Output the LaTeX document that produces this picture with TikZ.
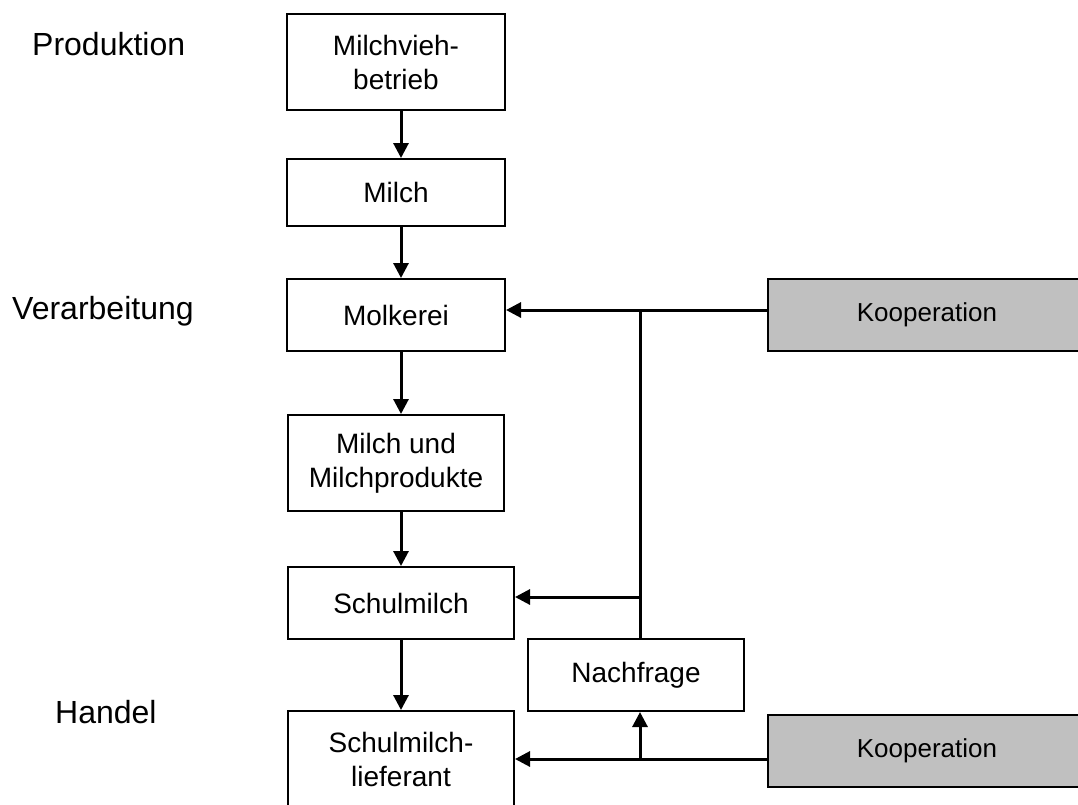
\documentclass[tikz,border=0pt]{standalone}
\usepackage{fontspec}
\setmainfont{Liberation Sans}
\usetikzlibrary{arrows.meta}
\definecolor{coopgray}{RGB}{192,192,192}
\begin{document}
\begin{tikzpicture}[x=1pt,y=-1pt,
  box/.style={draw, line width=2pt, inner sep=0pt, align=center,
    font=\fontsize{28}{34}\selectfont},
  coop/.style={box, fill=coopgray, font=\fontsize{26}{30}\selectfont},
  flow/.style={line width=3pt, -{Triangle[length=15pt,width=15pt]}},
  link/.style={line width=3pt},
  stage/.style={anchor=base west, inner sep=0pt, font=\fontsize{32}{38}\selectfont}]
\clip (0,0) rectangle (1078,804);

% stage labels
\node[stage] (prod) at (32,55) {Produktion};
\node[stage] (verarb) at (12,319) {Verarbeitung};
\node[stage] (handel) at (55,723) {Handel};

% main chain
\node[box, minimum width=218pt, minimum height=96pt] (mv) at (396,62) {Milchvieh-\\betrieb};
\node[box, minimum width=218pt, minimum height=67pt] (mi) at (396,192.5) {Milch};
\node[box, minimum width=218pt, minimum height=72pt] (mo) at (396,315) {Molkerei};
\node[box, minimum width=216pt, minimum height=96pt] (mp) at (396,463) {Milch und\\Milchprodukte};
\node[box, minimum width=226pt, minimum height=72pt] (sm) at (401,603) {Schulmilch};
\node[box, minimum width=226pt, minimum height=96pt] (sl) at (401,759) {Schulmilch-\\lieferant};

% demand and cooperation
\node[box, minimum width=216pt, minimum height=72pt] (nf) at (636,675) {Nachfrage};
\node[coop, minimum width=318pt, minimum height=72pt] (k1) at (927,315) {Kooperation};
\node[coop, minimum width=318pt, minimum height=72pt] (k2) at (927,751) {Kooperation};

% helper coordinates for the connector lines
\coordinate (axis) at (401,0);
\coordinate (bus) at (640,0);
\coordinate (r1) at (0,310);
\coordinate (r2) at (0,597);
\coordinate (r3) at (0,759);

% vertical flow
\draw[flow] (mv.south -| axis) -- (mi.north -| axis);
\draw[flow] (mi.south -| axis) -- (mo.north -| axis);
\draw[flow] (mo.south -| axis) -- (mp.north -| axis);
\draw[flow] (mp.south -| axis) -- (sm.north -| axis);
\draw[flow] (sm.south -| axis) -- (sl.north -| axis);

% cooperation links
\draw[flow] (k1.west |- r1) -- (mo.east |- r1);
\draw[link] (nf.north -| bus) -- (bus |- r1);
\draw[flow] (bus |- r2) -- (sm.east |- r2);
\draw[flow] (k2.west |- r3) -- (sl.east |- r3);
\draw[flow] (bus |- r3) -- (nf.south -| bus);
\end{tikzpicture}
\end{document}
